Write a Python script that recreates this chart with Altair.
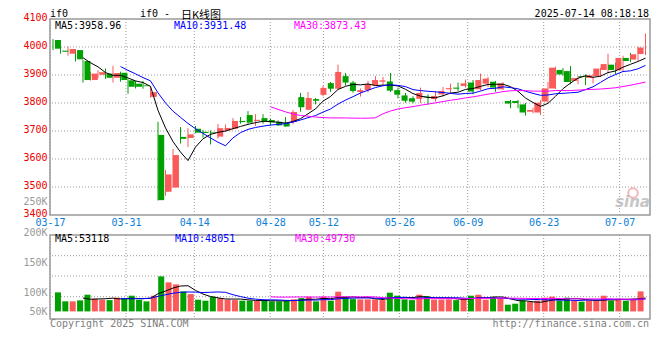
import altair as alt
import pandas as pd

# ---------------- data ----------------
dates = ["03-17", "03-18", "03-19", "03-20", "03-21", "03-24", "03-25", "03-26", "03-27", "03-28",
         "03-31", "04-01", "04-02", "04-03", "04-07", "04-08", "04-09", "04-10", "04-11", "04-14",
         "04-15", "04-16", "04-17", "04-18", "04-21", "04-22", "04-23", "04-24", "04-25", "04-28",
         "04-29", "04-30", "05-06", "05-07", "05-08", "05-09", "05-12", "05-13", "05-14", "05-15",
         "05-16", "05-19", "05-20", "05-21", "05-22", "05-23", "05-26", "05-27", "05-28", "05-29",
         "05-30", "06-03", "06-04", "06-05", "06-06", "06-09", "06-10", "06-11", "06-12", "06-13",
         "06-16", "06-17", "06-18", "06-19", "06-20", "06-23", "06-24", "06-25", "06-26", "06-27",
         "06-30", "07-01", "07-02", "07-03", "07-04", "07-07", "07-08", "07-09", "07-10", "07-11"]

opens = [4025, 3987, 3976, 3989, 3950, 3882, 3901, 3905, 3890, 3908,
         3881, 3869, 3863, 3822, 3686, 3483, 3498, 3679, 3675, 3708,
         3697, 3695, 3680, 3702, 3708, 3736, 3757, 3736, 3746, 3739,
         3733, 3729, 3732, 3821, 3776, 3814, 3829, 3871, 3851, 3896,
         3873, 3839, 3846, 3864, 3876, 3877, 3846, 3827, 3817, 3815,
         3823, 3814, 3831, 3849, 3855, 3861, 3873, 3849, 3869, 3876,
         3849, 3807, 3807, 3795, 3769, 3766, 3805, 3852, 3918, 3914,
         3879, 3896, 3890, 3896, 3918, 3937, 3917, 3961, 3955, 3975]
highs = [4028, 4002, 4002, 3992, 3954, 3911, 3917, 3923, 3933, 3912,
         3885, 3879, 3879, 3859, 3733, 3561, 3636, 3714, 3710, 3718,
         3704, 3702, 3725, 3723, 3746, 3750, 3771, 3760, 3760, 3743,
         3738, 3750, 3775, 3836, 3839, 3818, 3861, 3875, 3937, 3907,
         3879, 3852, 3879, 3896, 3893, 3907, 3855, 3836, 3824, 3855,
         3831, 3843, 3857, 3869, 3873, 3884, 3882, 3905, 3893, 3879,
         3875, 3811, 3811, 3800, 3783, 3810, 3875, 3930, 3925, 3932,
         3896, 3902, 3902, 3926, 3976, 3943, 3969, 3979, 4001, 4048]
lows = [3989, 3976, 3969, 3948, 3873, 3880, 3890, 3886, 3873, 3876,
        3833, 3852, 3851, 3819, 3452, 3469, 3498, 3655, 3643, 3692,
        3676, 3652, 3673, 3697, 3705, 3726, 3726, 3718, 3726, 3720,
        3718, 3716, 3724, 3769, 3774, 3795, 3824, 3840, 3849, 3862,
        3837, 3823, 3838, 3861, 3861, 3839, 3816, 3801, 3799, 3800,
        3795, 3805, 3823, 3833, 3843, 3855, 3831, 3845, 3857, 3840,
        3846, 3781, 3781, 3755, 3763, 3757, 3802, 3850, 3898, 3867,
        3867, 3864, 3870, 3893, 3906, 3902, 3914, 3946, 3951, 3971]
closes = [3994, 3983, 3993, 3956, 3882, 3905, 3910, 3890, 3907, 3882,
          3858, 3858, 3860, 3839, 3453, 3545, 3614, 3672, 3688, 3694,
          3693, 3692, 3710, 3711, 3736, 3732, 3730, 3740, 3735, 3731,
          3720, 3716, 3768, 3785, 3818, 3808, 3854, 3851, 3911, 3873,
          3843, 3846, 3867, 3882, 3881, 3844, 3830, 3808, 3805, 3836,
          3820, 3825, 3843, 3853, 3851, 3870, 3841, 3882, 3887, 3855,
          3870, 3798, 3800, 3766, 3775, 3801, 3852, 3926, 3902, 3875,
          3889, 3893, 3899, 3923, 3939, 3918, 3961, 3950, 3974, 3998]
volumes = [76120, 40350, 40210, 44080, 66790, 50850, 46720, 45180, 54860, 50790,
           62810, 46830, 40120, 62750, 140230, 116080, 108120, 80040, 69210, 46790,
           42830, 58760, 53190, 46810, 45230, 42780, 42850, 42770, 45210, 40060,
           40110, 42820, 48030, 53170, 58820, 40080, 58790, 42810, 78830, 58770,
           49180, 48020, 47960, 48050, 45190, 74820, 62780, 48010, 45220, 66830,
           61170, 46820, 46780, 48040, 45170, 53210, 62830, 66790, 46850, 58760,
           52030, 26810, 30790, 42830, 38770, 42810, 54830, 58790, 42770, 54820,
           42830, 38790, 42810, 42850, 62790, 42780, 50830, 42820, 50790, 80020]

date_ticks = ["03-17", "03-31", "04-14", "04-28", "05-12", "05-26", "06-09", "06-23", "07-07"]
price_grid = [3500, 3600, 3700, 3800, 3900, 4000]
price_labels = [3400, 3500, 3600, 3700, 3800, 3900, 4000, 4100]
vol_grid = [58800, 141600, 222800]
vol_label_values = [-1000, 77000, 194000, 305600]
vol_label_text = ["50K", "100K", "150K", "200K"]
extra_label_value = 3440
extra_label_text = "250K"

title_code = "if0"
title_main = "if0 - "
title_cn = "日K线图"
timestamp = "2025-07-14 08:18:18"
price_ma_text = ["MA5:3958.96", "MA10:3931.48", "MA30:3873.43"]
vol_ma_text = ["MA5:53118", "MA10:48051", "MA30:49730"]
copyright_text = "Copyright 2025 SINA.COM"
url_text = "http://finance.sina.com.cn"

# ---------------- styles ----------------
RED = "#fa5a5a"
GREEN = "#00a000"
MONO = "DejaVu Sans Mono"
CJK = "Noto Sans CJK SC"
GRID = "#9a9a9a"
MA_COLORS = ["#000000", "#0000ff", "#ff00ff"]
W, H_MAIN, H_VOL = 600, 196, 84

df = pd.DataFrame({"idx": list(range(len(dates))), "date": dates, "open": opens,
                   "high": highs, "low": lows, "close": closes, "volume": volumes})
df["dir"] = ["up" if c >= o else "down" for o, c in zip(opens, closes)]

n = len(dates)
cx = alt.Scale(domain=[-0.4, n - 0.4], nice=False, zero=False)
gx = alt.Scale(domain=[0, n - 1], nice=False, zero=False)
py = alt.Scale(domain=[3400, 4100], nice=False, zero=False)
vy = alt.Scale(domain=[-30400, 305600], nice=False, zero=False)
color = alt.Color("dir:N", scale=alt.Scale(domain=["up", "down"], range=[RED, GREEN]), legend=None)

tick_idx = [dates.index(d) for d in date_ticks]
date_expr = ("[" + ",".join(f"'{d}'" for d in date_ticks) + "][indexof(["
             + ",".join(str(i) for i in tick_idx) + "], datum.value)]")
vol_expr = ("[" + ",".join(f"'{t}'" for t in vol_label_text) + "][indexof(["
            + ",".join(str(v) for v in vol_label_values) + "], datum.value)]")

# ---------------- axes ----------------
date_axis = alt.Axis(values=tick_idx, labelExpr=date_expr, labelColor="#0a80d8", labelFont=MONO,
                     labelFontSize=10, labelPadding=2, labelFlush=False, labelOverlap=False,
                     ticks=False, domain=False, grid=False, title=None)
price_axis = alt.Axis(values=price_labels + [extra_label_value], format="d",
                      labelExpr=f"datum.value == {extra_label_value} ? '{extra_label_text}' : datum.label",
                      labelColor={"condition": {"test": f"datum.value == {extra_label_value}",
                                                "value": "#999999"}, "value": "#ee0000"},
                      labelFont=MONO, labelFontSize=10, labelPadding=3, labelOffset=-2,
                      labelOverlap=False, ticks=False, domain=False, grid=False, title=None)
vol_axis = alt.Axis(values=vol_label_values, labelExpr=vol_expr, labelColor="#999999",
                    labelBaseline={"condition": {"test": f"datum.value >= {vol_label_values[-1]}",
                                                 "value": "alphabetic"}, "value": "middle"},
                    labelFont=MONO, labelFontSize=10, labelPadding=3, labelOverlap=False,
                    ticks=False, domain=False, grid=False, title=None)


def txt(s, x, y, col="#000000", size=10, font=MONO, align="left", **kw):
    return alt.Chart(pd.DataFrame({"t": [s]})).mark_text(
        align=align, baseline="alphabetic", font=font, fontSize=size, color=col, **kw
    ).encode(x=alt.value(x), y=alt.value(y), text="t:N")


def grid_rules_x(axis):
    return alt.Chart(pd.DataFrame({"gi": tick_idx})).mark_rule(
        color=GRID, strokeDash=[1, 2], strokeWidth=1
    ).encode(x=alt.X("gi:Q", scale=gx, axis=axis))


def grid_rules_y(values, yscale, yaxis):
    return alt.Chart(pd.DataFrame({"g": values})).mark_rule(
        color=GRID, strokeDash=[1, 2], strokeWidth=1
    ).encode(y=alt.Y("g:Q", scale=yscale, axis=yaxis))


base = alt.Chart(df)


def ma_line(field, k, col, yscale, yaxis):
    return base.transform_window(
        ma=f"mean({field})", cnt="count()", frame=[-(k - 1), 0], sort=[alt.SortField("idx")]
    ).transform_filter(f"datum.cnt == {k}").mark_line(color=col, strokeWidth=1).encode(
        x=alt.X("idx:Q", scale=cx, axis=None),
        y=alt.Y("ma:Q", scale=yscale, axis=yaxis),
    )


# ---------------- price panel ----------------
wick = base.mark_rule(strokeWidth=1).encode(
    x=alt.X("idx:Q", scale=cx, axis=None),
    y=alt.Y("low:Q", scale=py, axis=price_axis), y2="high:Q", color=color)
body = base.mark_bar(size=6).encode(
    x=alt.X("idx:Q", scale=cx, axis=None),
    y=alt.Y("open:Q", scale=py, axis=price_axis), y2="close:Q", color=color)

main = alt.layer(
    grid_rules_y(price_grid, py, price_axis),
    grid_rules_x(date_axis),
    wick, body,
    ma_line("close", 5, MA_COLORS[0], py, price_axis),
    ma_line("close", 10, MA_COLORS[1], py, price_axis),
    ma_line("close", 30, MA_COLORS[2], py, price_axis),
    txt(title_code, 0, -2),
    txt(title_main, 90, -2),
    txt(title_cn, 131, 0, size=11, font=CJK),
    txt(timestamp, 599, -2, align="right"),
    txt(price_ma_text[0], 5, 10, MA_COLORS[0]),
    txt(price_ma_text[1], 124, 10, MA_COLORS[1]),
    txt(price_ma_text[2], 244, 10, MA_COLORS[2]),
    alt.Chart(pd.DataFrame({"t": [0]})).mark_point(
        shape="circle", size=90, filled=False, stroke="#f2a6a6", strokeWidth=2, opacity=0.8
    ).encode(x=alt.value(583), y=alt.value(174)),
    txt("sina", 600, 188, "#b8b8b8", size=15, font="DejaVu Sans", align="right",
        fontStyle="italic", fontWeight="bold", opacity=0.8),
).resolve_scale(x="independent").properties(width=W, height=H_MAIN)

# ---------------- volume panel ----------------
vbars = base.mark_bar(size=6).encode(
    x=alt.X("idx:Q", scale=cx, axis=None),
    y=alt.Y("volume:Q", scale=vy, axis=vol_axis), y2=alt.datum(0), color=color)

vol = alt.layer(
    grid_rules_y(vol_grid, vy, vol_axis),
    grid_rules_x(None),
    vbars,
    ma_line("volume", 5, MA_COLORS[0], vy, vol_axis),
    ma_line("volume", 10, MA_COLORS[1], vy, vol_axis),
    ma_line("volume", 30, MA_COLORS[2], vy, vol_axis),
    txt(vol_ma_text[0], 5, 7.3, MA_COLORS[0]),
    txt(vol_ma_text[1], 125, 7.3, MA_COLORS[1]),
    txt(vol_ma_text[2], 245, 7.3, MA_COLORS[2]),
    txt(copyright_text, 0, 92, "#808080"),
    txt(url_text, 599, 92, "#808080", align="right"),
).resolve_scale(x="independent").properties(width=W, height=H_VOL)

chart = alt.vconcat(main, vol, spacing=20, bounds="flush").properties(
    padding={"left": 14, "top": 0, "right": 0, "bottom": 0}
).configure_view(stroke="#999999", strokeWidth=1.5)

chart.save("out.html", embed_options={"renderer": "svg", "actions": False})
